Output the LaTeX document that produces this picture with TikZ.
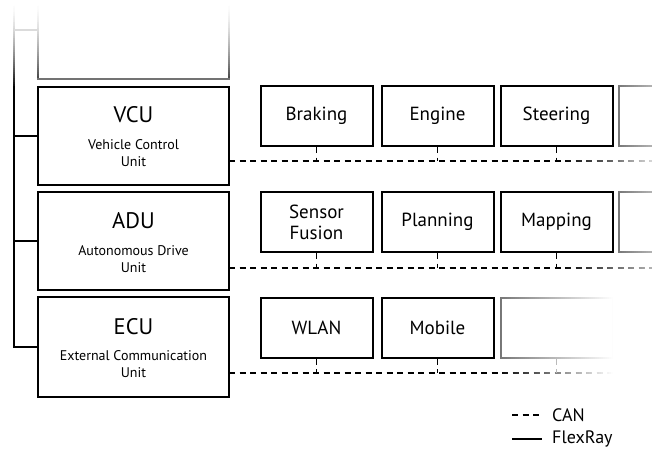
\documentclass[tikz,border=0pt]{standalone}
\usepackage{fontspec}
\setmainfont{PT Sans}
\tikzset{
  unit/.style={draw, line width=2pt, minimum width=191pt, minimum height=98pt, inner sep=0pt},
  ttl/.style={font=\fontsize{22.5}{26}\selectfont},
  sub/.style={font=\fontsize{14}{17}\selectfont, align=center},
  mod/.style={draw, line width=2pt, minimum width=112pt, minimum height=60pt, inner sep=0pt,
              font=\fontsize{19}{21}\selectfont, align=center},
  ghostmod/.style={mod, draw=black!55},
  can/.style={line width=1.6pt, dash pattern=on 6pt off 4.5pt},
  flex/.style={line width=1.8pt},
  lgd/.style={font=\fontsize{18}{20}\selectfont, anchor=west, inner sep=0pt},
  veil/.style={white, draw=none}
}
\begin{document}
\begin{tikzpicture}[x=1pt, y=-1pt]
\useasboundingbox (0,0) rectangle (652,452);
% units
\node[unit] (vcu) at (133.5,136) {};
\node[unit] (adu) at (133.5,241) {};
\node[unit, minimum height=100pt] (ecu) at (133.5,347) {};
\node[ttl] (vcut) at (133.5,115) {VCU};
\node[sub] (vcus) at (133.5,153.5) {Vehicle Control\\Unit};
\node[ttl] (adut) at (133.5,221) {ADU};
\node[sub] (adus) at (133.5,259) {Autonomous Drive\\Unit};
\node[ttl] (ecut) at (133.5,327) {ECU};
\node[sub] (ecus) at (133.5,364) {External Communication\\Unit};
% faded top unit and top of FlexRay bus
\coordinate (bustop) at (14,86);
\foreach \i in {0,...,42} {
  \pgfmathtruncatemacro\pc{100*((2*\i+1)/88)^1.7}
  \draw[line width=1.8pt, color=black!\pc] (14,2*\i) -- (14,2*\i+2.2);
}
\foreach \i in {0,...,39} {
  \pgfmathtruncatemacro\pb{75*((2*\i+1)/80)^1.7}
  \draw[line width=2pt, color=black!\pb] (38,2*\i) -- (38,2*\i+2.2);
  \draw[line width=2pt, color=black!\pb] (229,2*\i) -- (229,2*\i+2.2);
}
\draw[line width=2pt, color=black!55] (37,79) -- (230,79);
\draw[flex, color=black!14] (14,30) -- (38,30);
% FlexRay bus
\draw[flex] (bustop) |- (ecu.west);
\draw[flex] (vcu.west) -- (vcu.west -| bustop);
\draw[flex] (adu.west) -- (adu.west -| bustop);
% modules row 1
\node[mod] (brk) at (316.5,116) {Braking};
\node[mod] (eng) at (437.5,116) {Engine};
\node[mod] (ste) at (556.5,116) {Steering};
\node[ghostmod] (g1) at (675,116) {};
% row 2
\node[mod] (sen) at (316.5,222) {Sensor\\Fusion};
\node[mod] (pla) at (437.5,222) {Planning};
\node[mod] (map) at (556.5,222) {Mapping};
\node[ghostmod] (g2) at (675,222) {};
% row 3
\node[mod] (wla) at (316.5,327.5) {WLAN};
\node[mod] (mob) at (437.5,327.5) {Mobile};
\node[ghostmod] (g3) at (556.5,327.5) {};
% CAN buses
\coordinate (c1L) at (229,161); \coordinate (c1R) at (652,161);
\coordinate (c2L) at (229,268); \coordinate (c2R) at (652,268);
\coordinate (c3L) at (229,373); \coordinate (c3R) at (616,373);
\draw[can] (c1L) -- (c1R);
\draw[can] (c2L) -- (c2R);
\draw[can] (c3L) -- (c3R);
\foreach \m in {brk,eng,ste} \draw[can] (\m.south) -- (\m.south |- c1L);
\foreach \m in {sen,pla,map} \draw[can] (\m.south) -- (\m.south |- c2L);
\foreach \m in {wla,mob} \draw[can] (\m.south) -- (\m.south |- c3L);
\draw[can, black!55] (g3.south) -- (g3.south |- c3L);
% right-hand fades (stacked white veils)
\foreach \i in {0,...,45} {
  \pgfmathsetmacro\op{0.7*(2*\i+1)/92}
  \fill[veil, fill opacity=\op] (560+2*\i,150) rectangle (562+2*\i,172);
  \fill[veil, fill opacity=\op] (560+2*\i,257) rectangle (562+2*\i,279);
}
\foreach \i in {0,...,17} {
  \pgfmathsetmacro\op{0.45*(2*\i+1)/36}
  \fill[veil, fill opacity=\op] (616+2*\i,80) rectangle (618+2*\i,258);
}
\foreach \i in {0,...,59} {
  \pgfmathsetmacro\op{min(1,(2*\i+1)/116)}
  \fill[veil, fill opacity=\op] (497+2*\i,290) rectangle (499+2*\i,385);
}
% legend
\node[lgd] (canl) at (552,415) {CAN};
\node[lgd] (flxl) at (552,439) {FlexRay};
\coordinate (lg1) at (512,415); \coordinate (lg2) at (512,439);
\draw[can] (lg1) -- (lg1 -| 542,0);
\draw[flex] (lg2) -- (lg2 -| 542,0);
\end{tikzpicture}
\end{document}
